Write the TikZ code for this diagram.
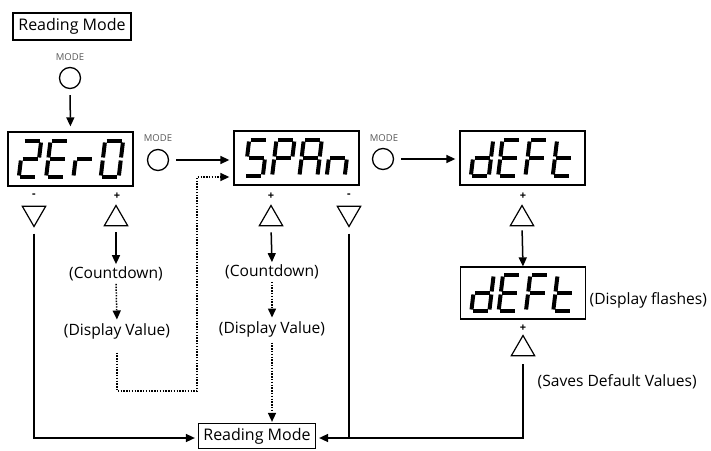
\documentclass[tikz,border=0pt]{standalone}
\usepackage{fontspec}
\setmainfont{Open Sans}
\usetikzlibrary{arrows.meta,shapes.geometric}
\newcommand\SegA{\draw[seg] (1.5,-18)--(16.5,-18);}
\newcommand\SegB{\draw[seg] (18,-16.5)--(18,-1.5);}
\newcommand\SegC{\draw[seg] (18,1.5)--(18,16.5);}
\newcommand\SegD{\draw[seg] (1.5,18)--(16.5,18);}
\newcommand\SegE{\draw[seg] (0,1.5)--(0,16.5);}
\newcommand\SegF{\draw[seg] (0,-16.5)--(0,-1.5);}
\newcommand\SegG{\draw[seg] (1.5,0)--(16.5,0);}
\newcommand\segchar[3]{\begin{scope}[shift={(#1,#2)},xslant=0.12]\foreach \s in {#3}{\csname Seg\s\endcsname}\end{scope}}
\begin{document}
\begin{tikzpicture}[x=1pt,y=-1pt,
  seg/.style={line width=4pt,line cap=butt},
  box/.style={draw,line width=1.2pt,inner sep=0pt,font=\fontsize{16}{18}\selectfont},
  disp/.style={draw,line width=1.3pt,minimum width=125pt,minimum height=54pt,inner sep=0pt},
  modelbl/.style={font=\fontsize{9.5}{10}\selectfont,text=black!65,inner sep=0pt},
  btn/.style={circle,draw,line width=1.3pt,minimum size=21pt,inner sep=0pt},
  pm/.style={font=\fontsize{11}{11}\selectfont\bfseries,inner sep=0pt},
  upt/.style={regular polygon,regular polygon sides=3,draw,line width=1.2pt,minimum size=27pt,inner sep=0pt},
  dnt/.style={upt,shape border rotate=180},
  lbl/.style={font=\fontsize{15.6}{17}\selectfont,inner sep=1.5pt},
  arr/.style={line width=1.5pt,-{Triangle[length=9pt,width=8pt]}},
  dot/.style={line width=1.5pt,dash pattern=on 1.4pt off 1.4pt},
  plain/.style={line width=1.5pt}]
\useasboundingbox (0,0) rectangle (711,450);
\fill[white] (0,0) rectangle (711,450);

% top
\node[box,minimum width=118pt,minimum height=27pt] (rm1) at (72,26.5) {Reading Mode};
\node[modelbl] (ml0) at (70,57) {MODE};
\node[btn] (b0) at (70,78) {};

% displays
\node[disp] (z) at (70.5,159) {};
\node[disp] (s) at (296.5,158) {};
\node[disp] (d) at (522.5,158) {};
\node[disp,minimum height=52pt] (d2) at (523,293) {};

\segchar{21}{159}{A,B,G,E,D}
\segchar{48.3}{159}{A,F,G,E,D}
\segchar{75.6}{159}{E,G}
\segchar{102.9}{159}{A,B,C,D,E,F}

\segchar{247}{158}{A,F,G,C,D}
\segchar{274.3}{158}{A,B,F,G,E}
\segchar{301.6}{158}{A,B,C,E,F,G}
\segchar{328.9}{158}{C,E,G}

\segchar{473}{158}{B,C,D,E,G}
\segchar{500.3}{158}{A,F,G,E,D}
\segchar{527.6}{158}{A,F,G,E}
\segchar{554.9}{158}{F,E,G,D}

\segchar{473.5}{293}{B,C,D,E,G}
\segchar{500.8}{293}{A,F,G,E,D}
\segchar{528.1}{293}{A,F,G,E}
\segchar{555.4}{293}{F,E,G,D}

% mode buttons
\node[modelbl] (ml1) at (158,138) {MODE};
\node[btn] (b1) at (158,160) {};
\node[modelbl] (ml2) at (384,138) {MODE};
\node[btn] (b2) at (383,159) {};

% plus/minus labels and triangles
\node[pm] (mz) at (34,196) {-};
\node[dnt] (tdz) at (34,213) {};
\node[pm] (pz) at (117,196) {+};
\node[upt] (tuz) at (116,219) {};
\node[pm] (ps) at (271,196) {+};
\node[upt] (tus) at (271,219) {};
\node[pm] (ms) at (349,196) {-};
\node[dnt] (tds) at (349,213) {};
\node[pm] (pd) at (523,196) {+};
\node[upt] (tud) at (522,219) {};
\node[pm] (pd2) at (523,328) {+};
\node[upt] (tud2) at (523,349) {};

% labels
\node[lbl] (cd1) at (116,274) {(Countdown)};
\node[lbl] (dv1) at (117,331) {(Display Value)};
\node[lbl] (cd2) at (272,272) {(Countdown)};
\node[lbl] (dv2) at (272,329) {(Display Value)};
\node[lbl,anchor=west] (fl) at (588,300) {(Display flashes)};
\node[lbl,anchor=west] (sv) at (536,382) {(Saves Default Values)};

% bottom box
\node[box,minimum width=117pt,minimum height=25pt] (rm2) at (257,436) {Reading Mode};

\coordinate (dc1) at (117,391);
\coordinate (dc2) at (197,391);
\coordinate (dc3) at (197,177);
\coordinate (jn) at (349,438);
\coordinate (lc) at (34,438);

% connectors
\draw[arr,shorten <=6pt,shorten >=5pt] (b0.south) -- (z.north);
\draw[arr,shorten <=7pt,shorten >=4pt] (b1.east) -- (b1.east -| s.west);
\draw[arr,shorten <=7pt,shorten >=4pt] (b2.east) -- (b2.east -| d.west);
\draw[dot,arr,shorten <=12pt,shorten >=4pt] (dv1.south) -- (dc1) -- (dc2) -- (dc3) -- (dc3 -| s.west);

\draw[arr,shorten <=6pt,shorten >=1pt] (tuz.south) -- (cd1.north);
\draw[dot,arr,shorten <=1pt,shorten >=2pt] (cd1.south) -- (dv1.north);

\draw[arr,shorten <=6pt,shorten >=1pt] (tus.south) -- (cd2.north);
\draw[dot,arr,shorten <=1pt,shorten >=2pt] (cd2.south) -- (dv2.north);
\draw[dot,arr,shorten <=4pt,shorten >=1pt] (dv2.south) -- (dv2.south |- rm2.north);

\draw[arr,shorten <=4pt] (tud.south) -- (d2.north);

\draw[arr,shorten <=6pt,shorten >=3pt] (tdz.south) -- (lc) -- (lc -| rm2.west);
\draw[arr,shorten <=6pt,shorten >=3pt] (tds.south) -- (jn) -- (jn -| rm2.east);
\draw[plain,shorten <=8pt] (tud2.south) -- (tud2.south |- jn) -- (jn);
\end{tikzpicture}
\end{document}
